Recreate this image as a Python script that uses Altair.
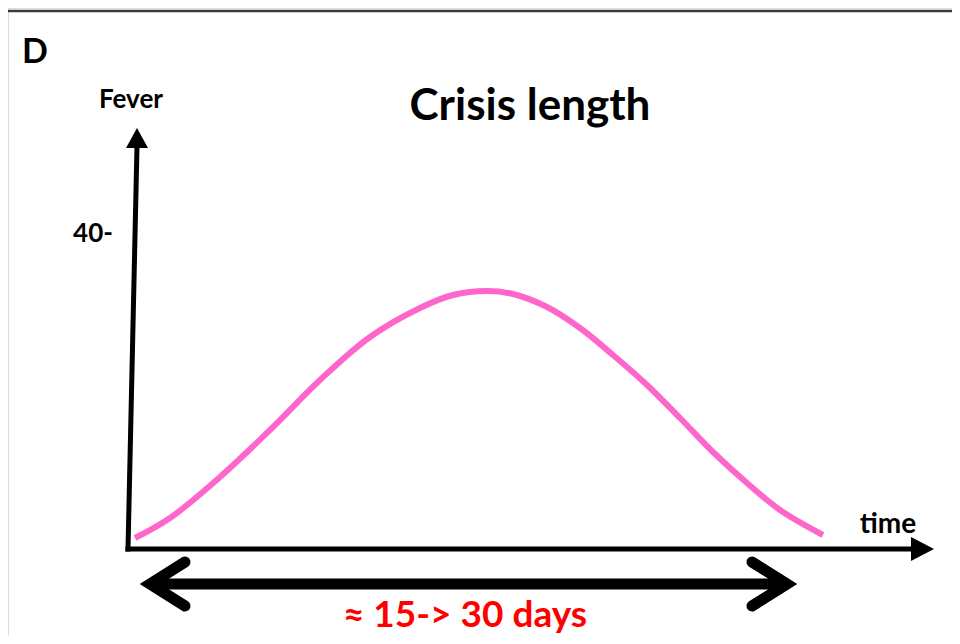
import altair as alt
import pandas as pd

# Fever curve (screen-pixel coordinates)
curve_x = [135, 170, 220, 270, 320, 370, 420, 453, 487, 513, 547, 580, 613, 647, 680, 713, 747, 780, 823]
curve_y = [538, 518, 477, 430, 380, 337, 308, 295, 291, 294, 307, 328, 355, 385, 418, 452, 483, 510, 535]

# Axis lines
axis_seg = ["x", "x", "y", "y"]
axis_x = [128, 914, 128, 137]
axis_y = [549, 549, 549, 146]

# Double-headed arrow (shaft + two chevrons)
arrow_seg = ["shaft", "shaft", "left", "left", "left", "right", "right", "right"]
arrow_x = [152, 785, 185, 150, 185, 752, 787, 752]
arrow_y = [584, 584, 562, 584, 606, 562, 584, 606]

# Axis arrow heads (triangles: base edge -> tip)
xhead_x = [911, 934]
xhead_y = [537, 549]
xhead_y2 = [561, 549]
yhead_y = [148, 128]
yhead_x = [126, 137]
yhead_x2 = [148, 137]

# Texts
labels = ["D", "Fever", "Crisis length", "40-", "time"]
label_x = [35, 131, 530, 93, 888]
label_y = [63, 108, 120, 242, 533]
label_size = [34, 26, 44, 26, 28]
red_label = "≈ 15-> 30 days"

W, H = 944, 628
xs = alt.Scale(domain=[8, 8 + W], nice=False, zero=False)
ys = alt.Scale(domain=[8 + H, 8], nice=False, zero=False)


def X(field="x"):
    return alt.X(f"{field}:Q", scale=xs, axis=None)


def Y(field="y"):
    return alt.Y(f"{field}:Q", scale=ys, axis=None)


curve_df = pd.DataFrame({"x": curve_x, "y": curve_y})
axis_df = pd.DataFrame({"seg": axis_seg, "x": axis_x, "y": axis_y, "o": range(len(axis_x))})
arrow_df = pd.DataFrame({"seg": arrow_seg, "x": arrow_x, "y": arrow_y, "o": range(len(arrow_x))})
border_df = pd.DataFrame({"x": [8, 8 + W], "y": [11, 11]})

border = alt.Chart(border_df).mark_line(color="#3a3a3a", strokeWidth=2.5).encode(x=X(), y=Y())

curve = alt.Chart(curve_df).mark_line(
    color="#FF66CC", strokeWidth=6, interpolate="catmull-rom", strokeCap="butt"
).encode(x=X(), y=Y())

axes = alt.Chart(axis_df).mark_line(
    color="black", strokeWidth=5, strokeCap="square"
).encode(x=X(), y=Y(), detail="seg:N", order="o:Q")

arrow = alt.Chart(arrow_df).mark_line(
    color="black", strokeWidth=11, strokeCap="round", strokeJoin="miter"
).encode(x=X(), y=Y(), detail="seg:N", order="o:Q")

xhead = alt.Chart(pd.DataFrame({"x": xhead_x, "y": xhead_y, "y2": xhead_y2})).mark_area(
    color="black", opacity=1, orient="vertical"
).encode(x=X(), y=Y(), y2="y2:Q")

yhead = alt.Chart(pd.DataFrame({"y": yhead_y, "x": yhead_x, "x2": yhead_x2})).mark_area(
    color="black", opacity=1, orient="horizontal"
).encode(y=Y(), x=X(), x2="x2:Q")

texts = []
for t, tx, ty, ts in zip(labels, label_x, label_y, label_size):
    texts.append(
        alt.Chart(pd.DataFrame({"x": [tx], "y": [ty], "t": [t]})).mark_text(
            font="Lato", fontWeight="bold", fontSize=ts, color="black",
            align="center", baseline="alphabetic"
        ).encode(x=X(), y=Y(), text="t:N")
    )

red = alt.Chart(pd.DataFrame({"x": [465], "y": [627], "t": [red_label]})).mark_text(
    font="Lato", fontWeight="bold", fontSize=37, color="#FF0000",
    align="center", baseline="alphabetic"
).encode(x=X(), y=Y(), text="t:N")

chart = alt.layer(border, curve, axes, arrow, xhead, yhead, *texts, red).properties(
    width=W, height=H, autosize=alt.AutoSizeParams(type="none"), padding=0
).configure_view(stroke=None).configure(background="white")

chart.save("out.html", embed_options={"renderer": "svg", "actions": False})
